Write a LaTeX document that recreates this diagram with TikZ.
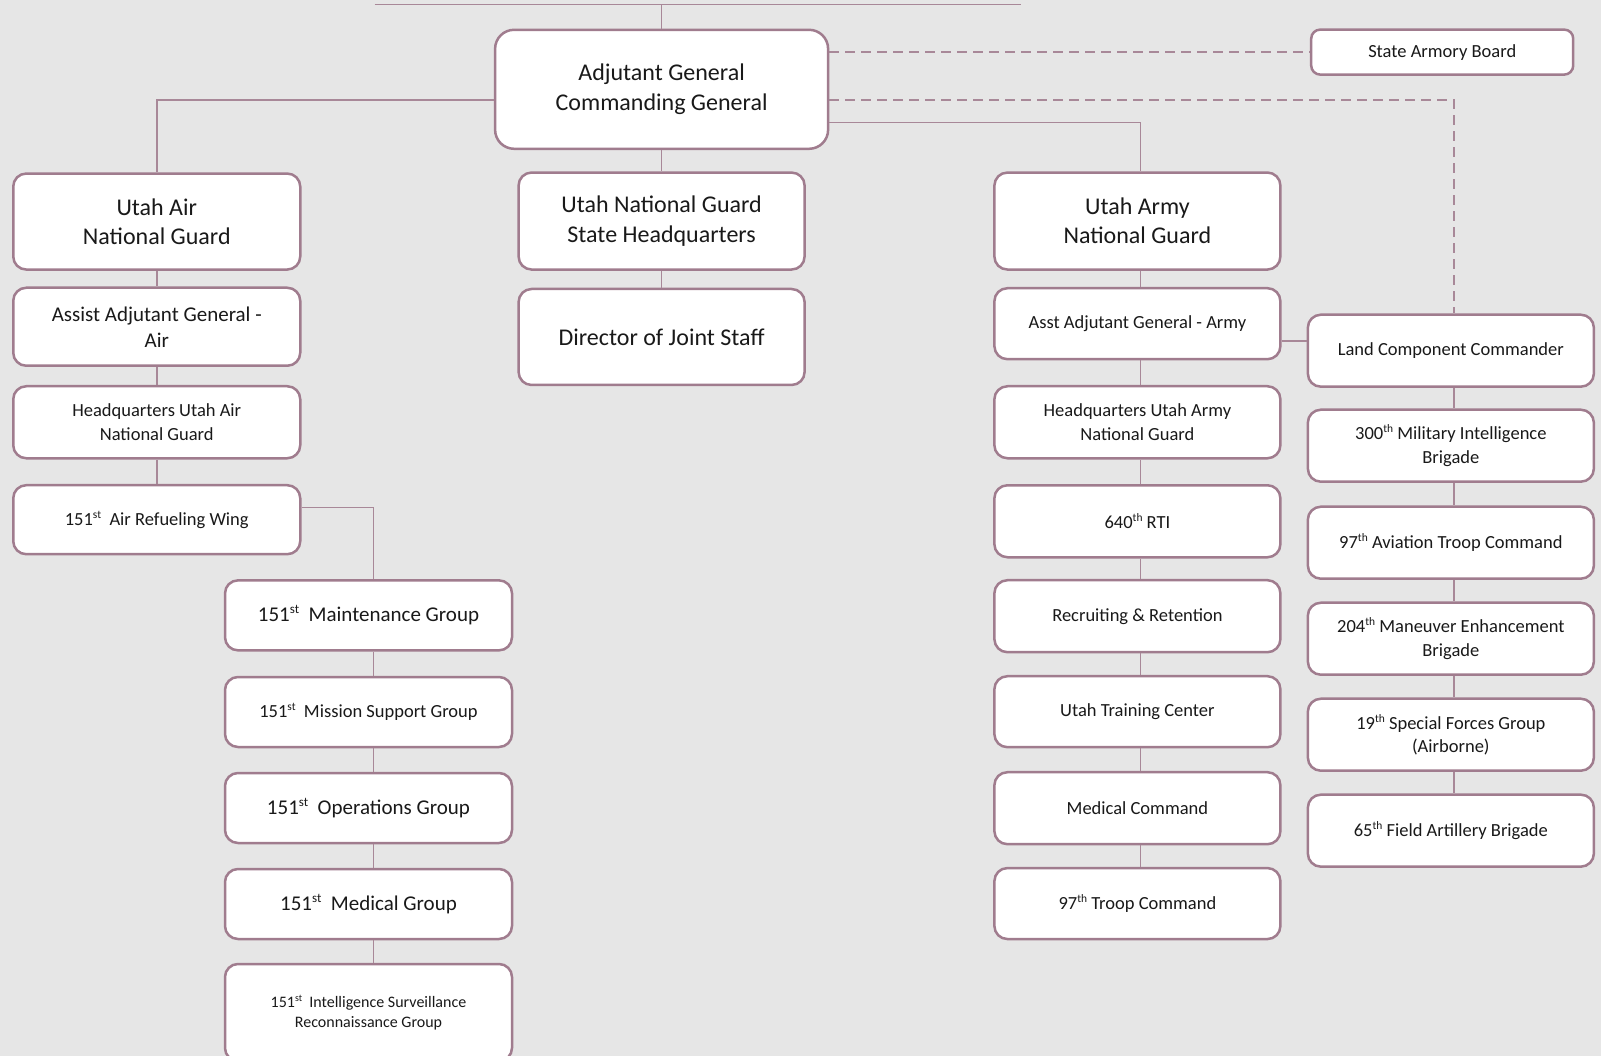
\documentclass[tikz,border=0pt]{standalone}
\usepackage{fontspec}
\setmainfont{Carlito}
\newcommand\szL{\fontsize{24}{29.3}\selectfont}
\newcommand\szM{\fontsize{21}{26}\selectfont}
\newcommand\szS{\fontsize{18.5}{23.3}\selectfont}
\newcommand\szT{\fontsize{16}{19.5}\selectfont}
\newcommand\ord[1]{\raisebox{0.38em}{\fontsize{0.62\dimexpr\fontdimen6\font\relax}{1pt}\selectfont #1}}
\definecolor{bgc}{RGB}{230,230,230}
\definecolor{bordc}{RGB}{160,124,142}
\definecolor{linec}{RGB}{168,136,152}
\tikzset{
  box/.style={draw=bordc, line width=2.5pt, fill=white, rounded corners=13pt, align=center, inner sep=0pt, text=black!90},
  bL/.style={box, font=\szL},
  bM/.style={box, font=\szM},
  bS/.style={box, font=\szS},
  bT/.style={box, font=\szT},
  conn/.style={draw=linec, line width=1.5pt},
  dconn/.style={draw=linec, line width=1.5pt, dash pattern=on 10pt off 6pt},
}
\begin{document}
\begin{tikzpicture}[x=1pt,y=-1pt]
\useasboundingbox (0,0) rectangle (1601,1056);
\fill[bgc] (0,0) rectangle (1601,1056);
\begin{scope}
\clip (0,0) rectangle (1601,1056);
% top
\node[bL, rounded corners=19pt, minimum width=333, minimum height=119] (ag) at (661.6,89.3) {Adjutant General\\Commanding General};
\node[bS, rounded corners=9pt, minimum width=262, minimum height=45] (sab) at (1442.2,52.1) {State Armory Board};
% air column
\node[bL, minimum width=287, minimum height=96] (air) at (156.75,221.55) {Utah Air\\National Guard};
\node[bM, minimum width=287, minimum height=78] (aag) at (156.75,326.75) {Assist Adjutant General -\\Air};
\node[bS, minimum width=287, minimum height=72] (hqair) at (156.75,422.25) {Headquarters Utah Air\\National Guard};
\node[bS, minimum width=287, minimum height=69] (arw) at (156.75,519.7) {151\ord{st}\ \ Air Refueling Wing};
% sub column
\node[bM, minimum width=287, minimum height=70] (mnt) at (368.5,615.35) {151\ord{st}\ \ Maintenance Group};
\node[bS, minimum width=287, minimum height=70] (msg) at (368.5,712) {151\ord{st}\ \ Mission Support Group};
\node[bM, minimum width=287, minimum height=70] (ops) at (368.5,808) {151\ord{st}\ \ Operations Group};
\node[bM, minimum width=287, minimum height=70] (med) at (368.5,904) {151\ord{st}\ \ Medical Group};
\node[bT, minimum width=287, minimum height=97] (isr) at (368.5,1012.5) {151\ord{st}\ \ Intelligence Surveillance\\Reconnaissance Group};
% centre column
\node[bL, minimum width=286, minimum height=97] (shq) at (661.6,221.05) {Utah National Guard\\State Headquarters};
\node[bL, minimum width=286, minimum height=96] (djs) at (661.6,337) {Director of Joint Staff};
% army column
\node[bL, minimum width=286, minimum height=97] (army) at (1137.4,221.05) {Utah Army\\National Guard};
\node[bS, minimum width=286, minimum height=71] (aaga) at (1137.4,323.7) {Asst Adjutant General - Army};
\node[bS, minimum width=286, minimum height=72] (hqarmy) at (1137.4,422.25) {Headquarters Utah Army\\National Guard};
\node[bS, minimum width=286, minimum height=72] (rti) at (1137.4,521.25) {640\ord{th} RTI};
\node[bS, minimum width=286, minimum height=72] (rr) at (1137.4,616.2) {Recruiting \& Retention};
\node[bS, minimum width=286, minimum height=71] (utc) at (1137.4,711.7) {Utah Training Center};
\node[bS, minimum width=286, minimum height=72] (medc) at (1137.4,808.2) {Medical Command};
\node[bS, minimum width=286, minimum height=71] (tc97) at (1137.4,903.55) {97\ord{th} Troop Command};
% right column
\node[bS, minimum width=286, minimum height=72] (lcc) at (1450.85,350.7) {Land Component Commander};
\node[bS, minimum width=286, minimum height=72] (mi300) at (1450.85,445.7) {300\ord{th} Military Intelligence\\Brigade};
\node[bS, minimum width=286, minimum height=72] (av97) at (1450.85,542.7) {97\ord{th} Aviation Troop Command};
\node[bS, minimum width=286, minimum height=72] (meb204) at (1450.85,638.7) {204\ord{th} Maneuver Enhancement\\Brigade};
\node[bS, minimum width=286, minimum height=72] (sfg19) at (1450.85,734.7) {19\ord{th} Special Forces Group\\(Airborne)};
\node[bS, minimum width=286, minimum height=72] (fab65) at (1450.85,830.65) {65\ord{th} Field Artillery Brigade};
% helper coordinates
\coordinate (tl) at (374.7,4.5);
\coordinate (tr) at (1021,4.5);
\coordinate (yA) at (0,100);
\coordinate (yB) at (0,122.5);
\coordinate (yC) at (0,507.4);
\coordinate (yD) at (0,341);
% connectors
\draw[conn] (tl) -- (tr);
\draw[conn] (ag.north |- tl) -- (ag.north);
\draw[conn] (ag.south) -- (shq.north);
\draw[conn] (shq.south) -- (djs.north);
\draw[conn] (ag.west |- yA) -| (air.north);
\draw[dconn] (ag.east |- sab.west) -- (sab.west);
\draw[dconn] (ag.east |- yA) -| ([xshift=3pt]lcc.north);
\draw[conn] (ag.east |- yB) -| ([xshift=3pt]army.north);
\draw[conn] (air.south) -- (aag.north);
\draw[conn] (aag.south) -- (hqair.north);
\draw[conn] (hqair.south) -- (arw.north);
\draw[conn] (arw.east |- yC) -| ([xshift=5pt]mnt.north);
\draw[conn] ([xshift=5pt]mnt.south) -- ([xshift=5pt]msg.north);
\draw[conn] ([xshift=5pt]msg.south) -- ([xshift=5pt]ops.north);
\draw[conn] ([xshift=5pt]ops.south) -- ([xshift=5pt]med.north);
\draw[conn] ([xshift=5pt]med.south) -- ([xshift=5pt]isr.north);
\draw[conn] ([xshift=3pt]army.south) -- ([xshift=3pt]aaga.north);
\draw[conn] ([xshift=3pt]aaga.south) -- ([xshift=3pt]hqarmy.north);
\draw[conn] ([xshift=3pt]hqarmy.south) -- ([xshift=3pt]rti.north);
\draw[conn] ([xshift=3pt]rti.south) -- ([xshift=3pt]rr.north);
\draw[conn] ([xshift=3pt]rr.south) -- ([xshift=3pt]utc.north);
\draw[conn] ([xshift=3pt]utc.south) -- ([xshift=3pt]medc.north);
\draw[conn] ([xshift=3pt]medc.south) -- ([xshift=3pt]tc97.north);
\draw[conn] (aaga.east |- yD) -- (lcc.west |- yD);
\draw[conn] ([xshift=3pt]lcc.south) -- ([xshift=3pt]mi300.north);
\draw[conn] ([xshift=3pt]mi300.south) -- ([xshift=3pt]av97.north);
\draw[conn] ([xshift=3pt]av97.south) -- ([xshift=3pt]meb204.north);
\draw[conn] ([xshift=3pt]meb204.south) -- ([xshift=3pt]sfg19.north);
\draw[conn] ([xshift=3pt]sfg19.south) -- ([xshift=3pt]fab65.north);
\end{scope}
\end{tikzpicture}
\end{document}
